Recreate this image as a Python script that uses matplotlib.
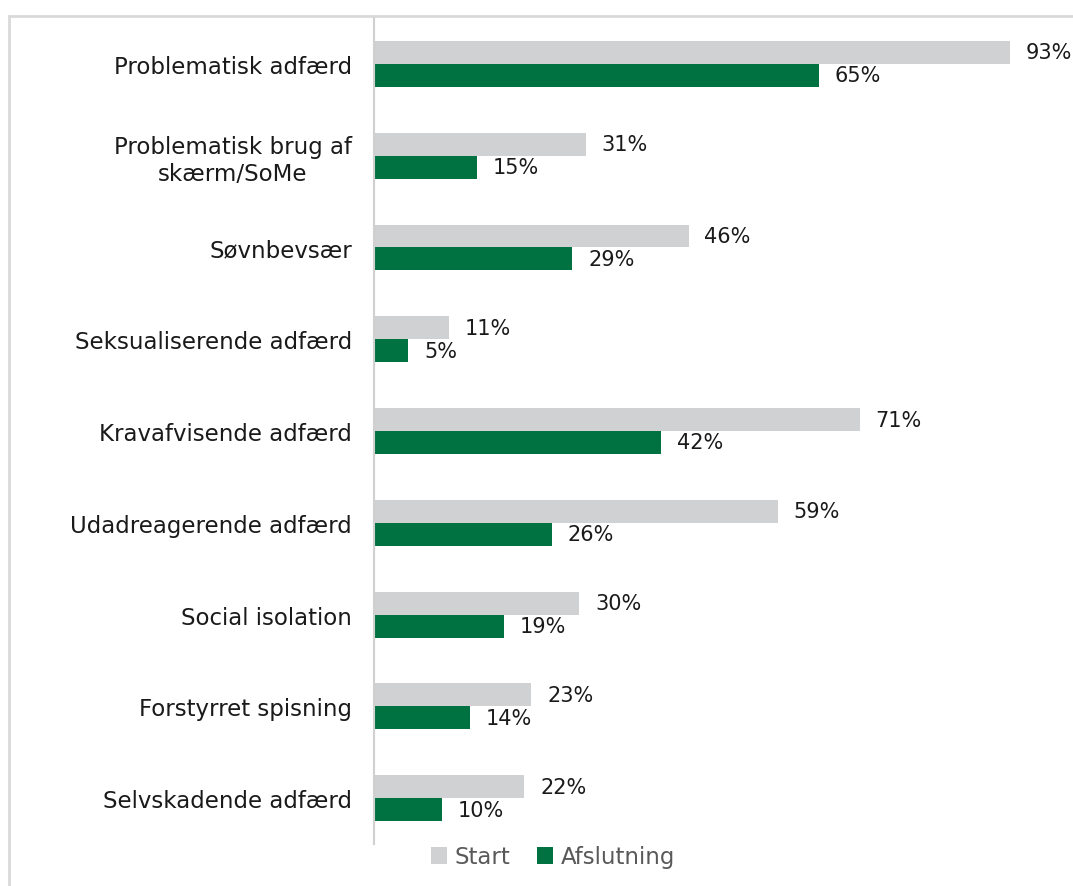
import matplotlib.pyplot as plt
import numpy as np
from matplotlib.patches import Rectangle

# Data
categories = ["Problematisk adfærd", "Problematisk brug af\nskærm/SoMe", "Søvnbevsær",
              "Seksualiserende adfærd", "Kravafvisende adfærd", "Udadreagerende adfærd",
              "Social isolation", "Forstyrret spisning", "Selvskadende adfærd"]
start = [93, 31, 46, 11, 71, 59, 30, 23, 22]
afslutning = [65, 15, 29, 5, 42, 26, 19, 14, 10]

grey = "#D0D1D3"
green = "#007140"
txt = "#1a1a1a"

plt.rcParams['font.family'] = ['DejaVu Sans']

fig = plt.figure(figsize=(10.73, 8.87), dpi=100)
W, H = 1073, 887
ax = fig.add_axes([374 / W, 1 - 845 / H, 1 - 374 / W, (845 - 19) / H])

y = np.arange(len(categories))
h = 0.25
ax.barh(y - h / 2, start, height=h, color=grey, label="Start")
ax.barh(y + h / 2, afslutning, height=h, color=green, label="Afslutning")

for yi, s, a in zip(y, start, afslutning):
    ax.text(s + 2.3, yi - h / 2, f"{s}%", va="center", ha="left", fontsize=15, color=txt)
    ax.text(a + 2.3, yi + h / 2, f"{a}%", va="center", ha="left", fontsize=15, color=txt)

ax.set_ylim(len(categories) - 0.5, -0.5)
ax.set_xlim(0, (W - 374) / 6.84)
ax.set_yticks(y)
ax.set_yticklabels(categories, fontsize=16.5, color=txt, ha="right", multialignment="center")
ax.tick_params(axis="y", length=0, pad=16)
ax.set_xticks([])
for side in ["top", "right", "bottom"]:
    ax.spines[side].set_visible(False)
ax.spines["left"].set_color("#d0d0d0")
ax.spines["left"].set_linewidth(1.5)

leg = fig.legend(loc="center", bbox_to_anchor=(553 / W, 1 - 858 / H), ncol=2, frameon=False,
                 fontsize=16.5, handlelength=0.7, handleheight=0.7, handletextpad=0.3,
                 columnspacing=1.2)
for t in leg.get_texts():
    t.set_color("#595959")

# outer border
fig.patches.append(Rectangle((9 / W, -0.05), 1.1, 1 - 17 / H + 0.05, transform=fig.transFigure,
                             fill=False, edgecolor="#d9d9d9", linewidth=2, clip_on=False))

fig.savefig("out.png", dpi=100)
